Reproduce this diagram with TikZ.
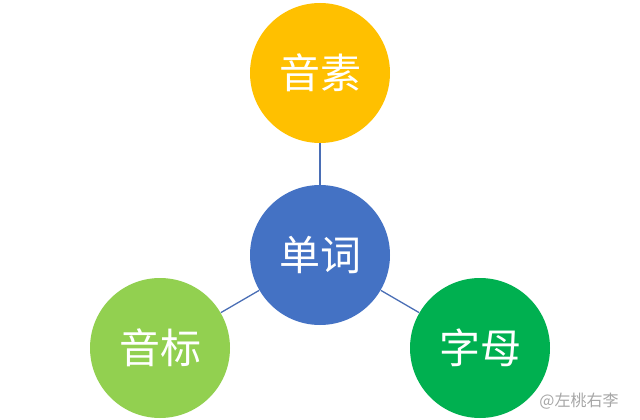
\documentclass[tikz,border=0pt]{standalone}
\usepackage{fontspec}
\newfontfamily\cjk{Noto Sans CJK SC}
\definecolor{gelb}{HTML}{FFC000}
\definecolor{blau}{HTML}{4472C4}
\definecolor{hellgruen}{HTML}{92D050}
\definecolor{gruen}{HTML}{00B050}
\definecolor{linie}{HTML}{4A6EB5}
\begin{document}
\begin{tikzpicture}[x=1pt,y=-1pt,thick]
\useasboundingbox (0,0) rectangle (640,420);
\tikzset{
kreis/.style={circle,minimum size=140pt,inner sep=0pt,text=white,
  font=\cjk\fontsize{41}{41}\selectfont},
}
\coordinate (pwort) at (320,255);
\coordinate (pyinsu) at (320,73);
\coordinate (pyinbiao) at (160,348);
\coordinate (pzimu) at (480,348);
\node[kreis,fill=blau] (wort) at (pwort) {单词};
\node[kreis,fill=gelb] (yinsu) at (pyinsu) {音素};
\node[kreis,fill=hellgruen] (yinbiao) at (pyinbiao) {音标};
\node[kreis,fill=gruen] (zimu) at (pzimu) {字母};
\draw[linie,line width=1.3pt] (wort) -- (yinsu);
\draw[linie,line width=1.3pt] (wort) -- (yinbiao);
\draw[linie,line width=1.3pt] (wort) -- (zimu);
\node[text=black!35,font=\cjk\fontsize{16}{16}\selectfont] (marke) at (579,401) {@左桃右李};
\end{tikzpicture}
\end{document}
